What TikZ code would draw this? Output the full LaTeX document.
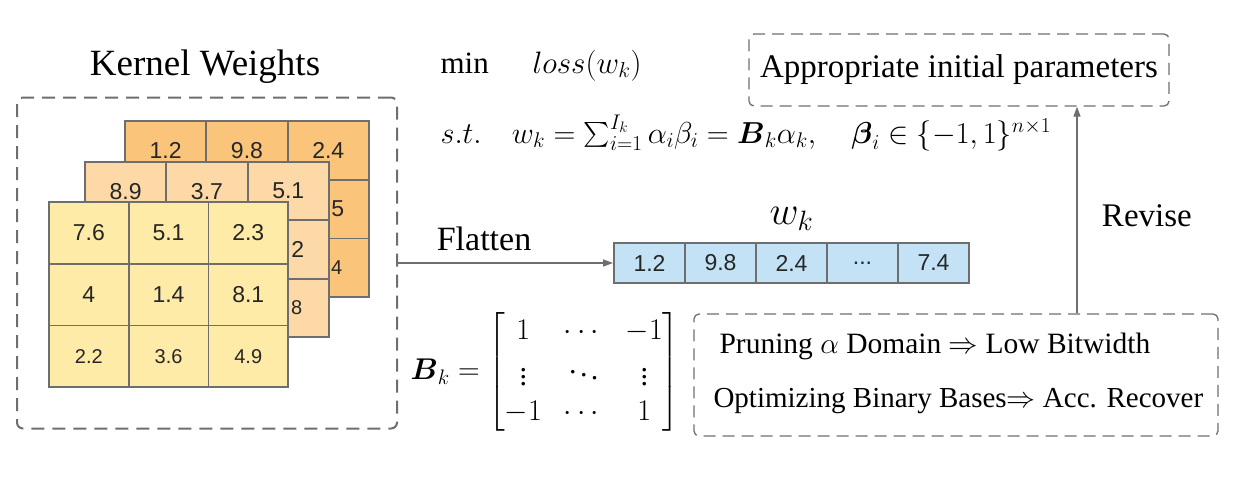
\RequirePackage{fix-cm}
\documentclass[tikz,border=0pt]{standalone}
\usepackage{amsmath}
\usepackage{fontspec}
\setmainfont{Liberation Serif}
\newfontfamily\cellfont{Liberation Sans}
\usetikzlibrary{arrows.meta,positioning,calc}
\definecolor{kerOrange}{HTML}{FAC47A}
\definecolor{kerPeach}{HTML}{FDD9A8}
\definecolor{kerYellow}{HTML}{FEEBA8}
\definecolor{vecBlue}{HTML}{C4E2F5}
\definecolor{lineGray}{HTML}{6E6E6E}
\newcommand{\smallnum}{\fontsize{20}{20}\selectfont}
\newcommand{\skipcell}{...}
\newcommand{\colvdots}{\lower0.17em\vbox{\baselineskip=0.22em\lineskiplimit=0pt\kern0.2em\hbox{.}\hbox{.}\hbox{.}}}

\begin{document}
\begin{tikzpicture}[x=1pt,y=-1pt,>={Triangle[length=10pt,width=7pt]},
  kcell/.style={draw=lineGray,line width=1.8pt,inner sep=0pt,text=black!85,font=\cellfont\fontsize{23}{23}\selectfont},
  bigdash/.style={draw=lineGray,line width=2pt,dash pattern=on 13pt off 8pt,rounded corners=6pt},
  dashbox/.style={draw=lineGray,line width=1.3pt,dash pattern=on 12pt off 7pt,rounded corners=5pt},
  flow/.style={->,draw=lineGray,line width=1.3pt}]
  \useasboundingbox (0,0) rectangle (1235,482);

  \node[anchor=base,font=\fontsize{37}{40}\selectfont] (ktitle) at (205,75) {Kernel Weights};
  \node[bigdash,minimum width=380,minimum height=331] (kbox) at (207,263) {};

  \foreach \r/\c/\v in {1/1/1.2,1/2/9.8,1/3/2.4,2/1/,2/2/,2/3/\phantom{0}.5,3/1/,3/2/,3/3/\smallnum\phantom{0}.4}
    \node[kcell,fill=kerOrange,minimum width=81.3,minimum height=58.7] (back\r\c) at ({125+81.3*(\c-0.5)},{121+58.7*(\r-0.5)}) {\v};
  \foreach \r/\c/\v in {1/1/8.9,1/2/3.7,1/3/5.1,2/1/,2/2/,2/3/\phantom{0.}2,3/1/,3/2/,3/3/\smallnum\phantom{0.}8}
    \node[kcell,fill=kerPeach,minimum width=81.3,minimum height=58.3] (mid\r\c) at ({85+81.3*(\c-0.5)},{162+58.3*(\r-0.5)}) {\v};
  \foreach \r/\c/\v in {1/1/7.6,1/2/5.1,1/3/2.3,2/1/4,2/2/1.4,2/3/8.1,3/1/\smallnum2.2,3/2/\smallnum3.6,3/3/\smallnum4.9}
    \node[kcell,fill=kerYellow,minimum width=79.7,minimum height=61.7] (front\r\c) at ({49+79.7*(\c-0.5)},{202+61.7*(\r-0.5)}) {\v};

  \node[anchor=base west,font=\fontsize{31}{36}\selectfont] (goal) at (437,73) {$\min\quad\ loss(w_k)$};
  \node[anchor=base west,font=\fontsize{30.3}{36}\selectfont] (cons) at (437,143)
    {$s.t.\quad w_k=\sum_{i=1}^{I_k}\alpha_i\beta_i=\boldsymbol{B}_k\alpha_k,\quad \boldsymbol{\beta}_i\in\{-1,1\}^{n\times1}$};

  \foreach \i/\v in {1/1.2,2/9.8,3/2.4,4/\skipcell,5/7.4}
    \node[kcell,fill=vecBlue,minimum width=71,minimum height=40] (v\i) at ({614+71*(\i-0.5)},263) {\v};
  \node[above=8pt of v3,font=\fontsize{40}{44}\selectfont] (wk) {$w_k$};
  \draw[flow] (kbox.east) -- (v1.west) node[pos=0.40,above=8pt,font=\fontsize{34}{38}\selectfont] {Flatten};

  \node[font=\fontsize{30}{36}\selectfont] (bmat) at (545,372)
    {\renewcommand{\arraystretch}{1.12}\setlength{\arraycolsep}{11pt}$\boldsymbol{B}_k=\begin{bmatrix}1&\cdots&-1\\ \colvdots&\ddots&\colvdots\\ -1&\cdots&1\end{bmatrix}$};

  \node[dashbox,minimum width=420,minimum height=72,font=\fontsize{33}{38}\selectfont] (init) at (959,70) {Appropriate initial parameters};
  \node[dashbox,minimum width=524,minimum height=122] (opt) at (956,375) {};
  \node[anchor=base west,font=\fontsize{29.5}{34}\selectfont] (prune) at (716,353) {Pruning $\alpha$ Domain $\Rightarrow$ Low Bitwidth};
  \node[anchor=base west,font=\fontsize{29}{34}\selectfont] (bases) at (710,407) {Optimizing Binary Bases$\Rightarrow$ Acc. Recover};
  \coordinate (revcol) at (1077,0);
  \draw[flow] (opt.north -| revcol) -- (init.south -| revcol) node[pos=0.47,right=21pt,font=\fontsize{33}{38}\selectfont] {Revise};
\end{tikzpicture}
\end{document}
